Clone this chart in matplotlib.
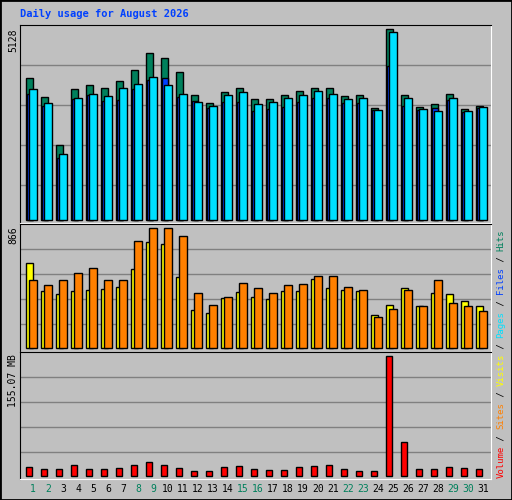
import matplotlib
matplotlib.use('Agg')
from matplotlib import pyplot as plt
from matplotlib.patches import Rectangle

days = list(range(1, 32))
hits = [3810, 3317, 2008, 3514, 3622, 3541, 3729, 4025, 4483, 4348, 3972, 3353, 3138, 3434, 3541, 3245,
        3245, 3353, 3460, 3541, 3541, 3326, 3353, 3003, 5128, 3353, 3030, 3111, 3380, 2976, 3057]
files = [3380, 3057, 1659, 3245, 3353, 3192, 3218, 3514, 3756, 3810, 3299, 3192, 3003, 3165, 3165, 2923,
         2976, 3030, 3165, 3272, 3272, 3138, 3138, 2949, 4133, 3057, 2949, 3003, 3218, 2896, 3003]
pages = [3514, 3138, 1766, 3272, 3380, 3326, 3541, 3649, 3837, 3622, 3380, 3165, 3057, 3353, 3434, 3111,
         3165, 3272, 3353, 3460, 3380, 3245, 3272, 2949, 5074, 3272, 2976, 2923, 3272, 2923, 3030]
visits = [614, 414, 392, 414, 421, 428, 443, 573, 767, 753, 515, 277, 255, 363, 407, 371,
          356, 414, 414, 500, 435, 421, 414, 238, 313, 435, 303, 399, 392, 342, 303]
sites = [491, 457, 491, 544, 577, 491, 491, 775, 866, 866, 811, 399, 310, 368, 472, 433,
         399, 457, 464, 522, 522, 443, 421, 224, 282, 421, 303, 491, 325, 303, 267]
volume = [11.2, 8.6, 8.6, 13.8, 8.6, 8.6, 9.9, 13.8, 17.7, 13.8, 9.9, 6.0, 6.0, 11.2, 12.5, 8.6,
          7.3, 7.3, 11.2, 12.5, 13.8, 8.6, 6.0, 6.0, 155.07, 43.5, 8.6, 8.6, 11.2, 9.9, 8.6]
weekend = [1, 2, 8, 9, 15, 16, 22, 23, 29, 30]

W, H = 512, 500
BG = '#C0C0C0'
fig = plt.figure(figsize=(W / 100, H / 100), dpi=100, facecolor=BG)
fig.patches.append(Rectangle((0, 0), 1, 1, transform=fig.transFigure, fill=False,
                             edgecolor='black', lw=2))


def panel(top, bottom, base, maxy, vmax, grid):
    # pixel box -> axes, ylim so that vmax sits at maxy and 0 at base
    ax = fig.add_axes([20 / W, 1 - bottom / H, 471 / W, (bottom - top) / H])
    ax.set_facecolor(BG)
    scale = vmax / (base - maxy)
    ax.set_ylim(-(bottom - base) * scale, (base - top) * scale)
    ax.set_xlim(0, 471)
    for g in grid:
        ax.axhline((base - g) * scale, color='#808080', lw=1, zorder=0)
    ax.set_xticks([])
    ax.set_yticks([])
    for s in ['top', 'left']:
        ax.spines[s].set_color('black')
    for s in ['bottom', 'right']:
        ax.spines[s].set_color('white')
    return ax


x0 = [(d - 1) * 15 for d in days]
kw = dict(align='edge', edgecolor='black', linewidth=1)

ax1 = panel(25, 223, 220, 29.5, 5128, [65, 105, 145, 185])
ax1.bar([x + 5.7 for x in x0], hits, 7, color='#00805C', **kw)
ax1.bar([x + 7.0 for x in x0], files, 6, color='#0040FF', **kw)
ax1.bar([x + 9.3 for x in x0], pages, 7.3, color='#00E0FF', **kw)

ax2 = panel(224, 352, 348.3, 228.3, 866, [249.3, 274.3, 299.3, 324.3])
ax2.bar([x + 5.7 for x in x0], visits, 7.6, color='#FFFF00', **kw)
ax2.bar([x + 9.3 for x in x0], sites, 7.3, color='#FF8000', **kw)

ax3 = panel(352, 479, 476, 356, 155.07, [377.3, 402.3, 427.3, 452.3])
ax3.bar([x + 5.7 for x in x0], volume, 6.6, color='#FF0000', **kw)

mono = 'DejaVu Sans Mono'
fig.text(20 / W, 1 - 14 / H, 'Daily usage for August 2026', color='#0040FF', family=mono,
         weight='bold', fontsize=7.5, va='center', ha='left')
for label, y in [('5128', 29), ('866', 226), ('155.07 MB', 354)]:
    fig.text(13 / W, 1 - y / H, label, rotation=90, family=mono, fontsize=7,
             va='top', ha='center')

for d, x in zip(days, x0):
    fig.text((x + 33) / W, 1 - 489 / H, str(d), family=mono, fontsize=7,
             ha='center', va='center', color='#00805C' if d in weekend else 'black')

legend = [('Volume', '#FF0000'), (' / ', 'black'), ('Sites', '#FF8000'), (' / ', 'black'),
          ('Visits', '#FFFF00'), (' / ', 'black'), ('Pages', '#00E0FF'), (' / ', 'black'),
          ('Files', '#0040FF'), (' / ', 'black'), ('Hits', '#00805C')]
pos = 0
for txt, col in legend:
    fig.text(501 / W, 1 - (478 - pos * 5.4) / H, txt, rotation=90, family=mono, fontsize=6.5,
             color=col, ha='center', va='bottom')
    pos += len(txt)

fig.savefig('out.png', dpi=100, facecolor=BG)
